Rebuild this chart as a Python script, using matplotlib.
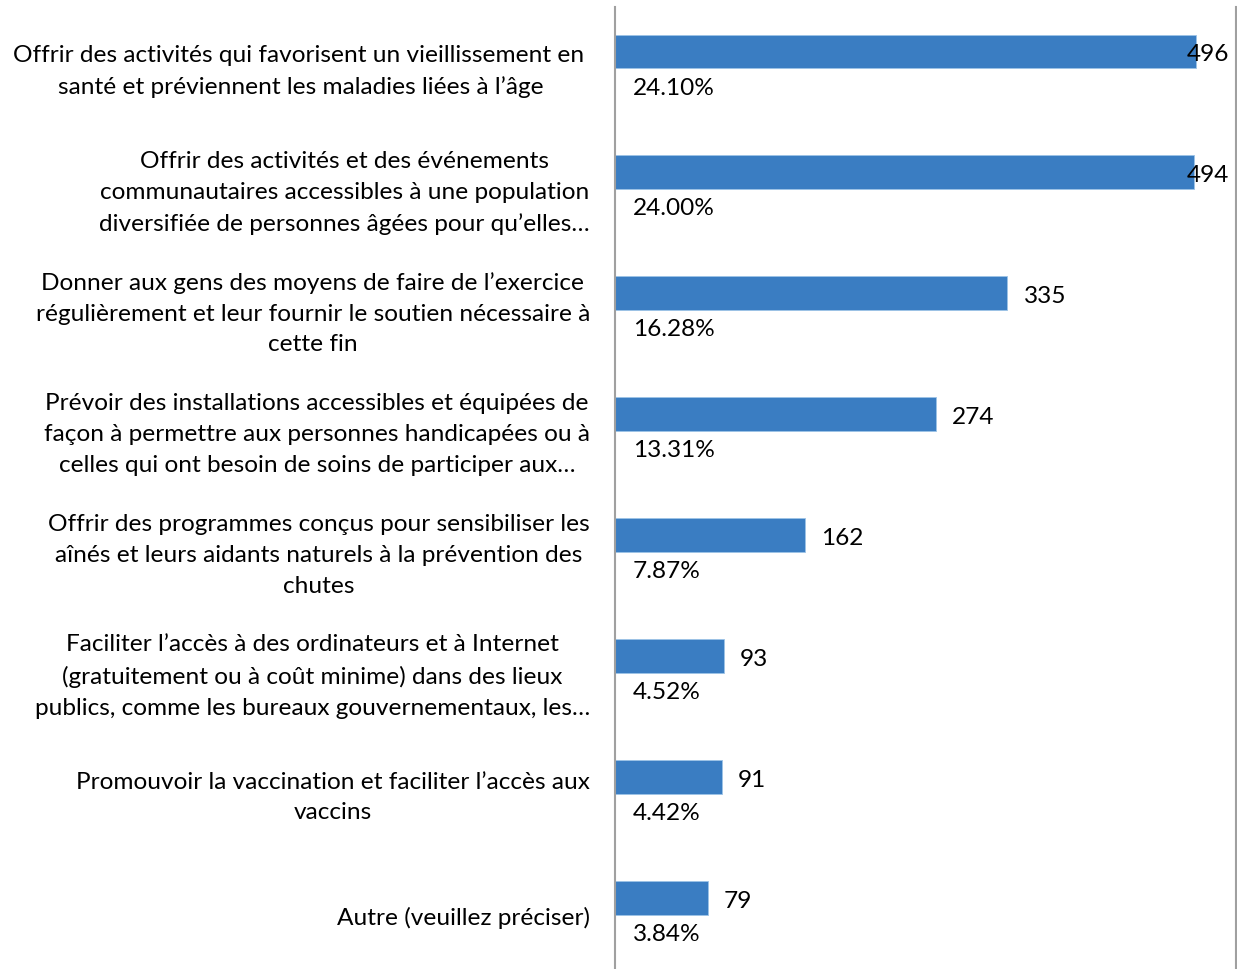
import matplotlib.pyplot as plt

plt.rcParams['font.family'] = ['Lato', 'DejaVu Sans']

categories = [
    "Offrir des activités qui favorisent un vieillissement en \nsanté et préviennent les maladies liées à l’âge",
    "Offrir des activités et des événements\ncommunautaires accessibles à une population\ndiversifiée de personnes âgées pour qu’elles…",
    "Donner aux gens des moyens de faire de l’exercice\nrégulièrement et leur fournir le soutien nécessaire à\ncette fin",
    "Prévoir des installations accessibles et équipées de\nfaçon à permettre aux personnes handicapées ou à\ncelles qui ont besoin de soins de participer aux…",
    "Offrir des programmes conçus pour sensibiliser les\naînés et leurs aidants naturels à la prévention des\nchutes",
    "Faciliter l’accès à des ordinateurs et à Internet\n(gratuitement ou à coût minime) dans des lieux\npublics, comme les bureaux gouvernementaux, les…",
    "Promouvoir la vaccination et faciliter l’accès aux\nvaccins",
    "Autre (veuillez préciser)",
]
counts = [496, 494, 335, 274, 162, 93, 91, 79]
percents = ["24.10%", "24.00%", "16.28%", "13.31%", "7.87%", "4.52%", "4.42%", "3.84%"]

W, H = 1237, 970
fig = plt.figure(figsize=(W / 100, H / 100), dpi=100)
ax = fig.add_axes([615 / W, 0, (1236 - 615) / W, 1 - 8 / H])

xmax = (1236 - 615) / 1.1714
ax.set_xlim(0, xmax)
ax.set_ylim(7.587, -0.368)

ypos = list(range(len(counts)))
ax.barh(ypos, counts, height=0.281, color='#3A7DC2', edgecolor='#9DC3E6', linewidth=0.6)

for sp in ['top', 'bottom']:
    ax.spines[sp].set_visible(False)
for sp in ['left', 'right']:
    ax.spines[sp].set_color('#A0A0A0')
    ax.spines[sp].set_linewidth(1.5)
ax.set_xticks([])
ax.set_yticks([])

fs = 17.6
label_limit = (1229 - 615) / 1.1714
for i, (v, p, c) in enumerate(zip(counts, percents, categories)):
    x = v + 13.7
    if x + 35 > label_limit:
        ax.text(label_limit, i + 0.02, str(v), ha='right', va='center', fontsize=fs)
    else:
        ax.text(x, i + 0.02, str(v), ha='left', va='center', fontsize=fs)
    ax.text(15.4, i + 0.294, p, ha='left', va='center', fontsize=fs)
    ax.text(-25 / 1.1714, i + 0.16, c, ha='right', va='center', multialignment='center',
            fontsize=fs, linespacing=1.58, clip_on=False)

fig.savefig('out.png', dpi=100)
